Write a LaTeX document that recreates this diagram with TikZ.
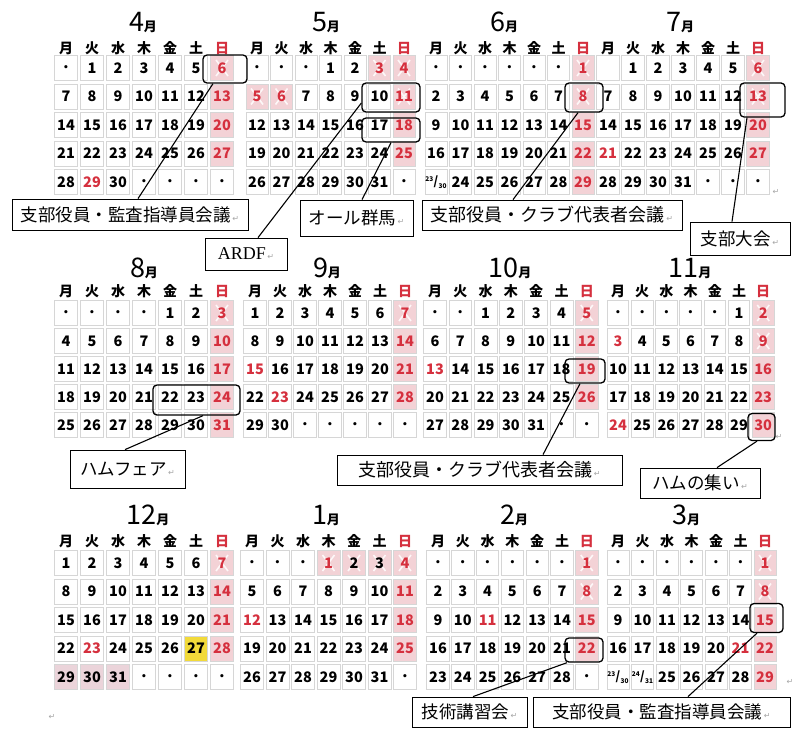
\documentclass[tikz,border=0pt]{standalone}
\usepackage{fontspec}
\newfontfamily\jp{Noto Sans CJK JP}
\newfontfamily\dv{DejaVu Sans}
\newfontfamily\ser{Liberation Serif}
\definecolor{hred}{HTML}{D5303E}
\definecolor{hpink}{HTML}{F3D2D6}
\definecolor{dpink}{HTML}{EBD4DA}
\definecolor{cellb}{HTML}{D6D6D6}
\definecolor{hyel}{HTML}{F2DA3A}
\newcommand\emptytxt{}
\newcommand\frc[2]{{\fontsize{6.5}{6.5}\selectfont\raisebox{4.5pt}{#1}}{\fontsize{12}{12}\selectfont\kern0.3pt/\kern0.3pt}{\fontsize{6.5}{6.5}\selectfont\raisebox{-2.5pt}{#2}}}
\newcommand\fa{\frc{23}{30}}
\newcommand\fb{\frc{24}{31}}
\newcommand\rt{{\dv\fontsize{8}{8}\selectfont\color{gray!70}\,↵}}
\tikzset{
  cell/.style={draw=cellb, line width=0.8pt, minimum height=25pt, inner sep=0pt,
    fill=white, font=\jp\bfseries\fontsize{14.5}{14.5}\selectfont},
  xmk/.style={path picture={
    \draw[white, line width=1.6pt, opacity=.85]
      ([shift={(-6pt,-8pt)}]path picture bounding box.center) -- ([shift={(6pt,8pt)}]path picture bounding box.center)
      ([shift={(-6pt,8pt)}]path picture bounding box.center) -- ([shift={(6pt,-8pt)}]path picture bounding box.center);}},
  stn/.style={}, ste/.style={},
  std/.style={font=\dv\bfseries\fontsize{9}{9}\selectfont},
  sts/.style={fill=hpink, text=hred},
  stx/.style={fill=hpink, text=hred, xmk},
  sth/.style={text=hred},
  stq/.style={fill=dpink},
  stk/.style={fill=hpink, xmk},
  sty/.style={fill=hyel},
  wd/.style={font=\jp\bfseries\fontsize{14}{14}\selectfont, inner sep=0pt},
  mt/.style={font=\jp, inner sep=0pt},
  hl/.style={draw=black, line width=1.3pt, rounded corners=4pt, inner sep=0pt},
  lb/.style={draw=black, line width=0.8pt, fill=white, inner sep=0pt, font=\jp\fontsize{17.5}{17.5}\selectfont},
  ld/.style={line width=1.1pt},
  rtn/.style={font=\dv\fontsize{8}{8}\selectfont, text=gray!70, inner sep=0pt}
}
% #1 name, #2 x of Monday column, #3 column pitch, #4 weekday y, #5 first row y, #6 row pitch, #7 entries
\newcommand\mkmonth[7]{%
  \foreach \w [count=\i from 0] in {月,火,水,木,金,土}{%
    \node[wd] (#1w\i) at ({#2+\i*#3},#4) {\w};}
  \node[wd, text=hred] (#1w6) at ({#2+6*#3},#4) {日};
  \foreach \t/\s [count=\k from 0] in {#7}{%
    \pgfmathtruncatemacro\cc{mod(\k,7)}%
    \pgfmathtruncatemacro\rr{\k/7}%
    \node[cell, minimum width={#3*1pt-2.5pt}, st\s] (#1c\k) at ({#2+\cc*#3},{#5+\rr*#6}) {\t};}%
}
\begin{document}
\begin{tikzpicture}[x=1pt,y=-1pt]
\useasboundingbox (0,0) rectangle (799,728);
\fill[white] (0,0) rectangle (799,728);

% titles
\node[mt] (t4) at (143,22) {\fontsize{27}{27}\selectfont 4\fontsize{13}{13}\selectfont\bfseries 月};
\node[mt] (t5) at (326,22) {\fontsize{27}{27}\selectfont 5\fontsize{13}{13}\selectfont\bfseries 月};
\node[mt] (t6) at (504,22) {\fontsize{27}{27}\selectfont 6\fontsize{13}{13}\selectfont\bfseries 月};
\node[mt] (t7) at (680,22) {\fontsize{27}{27}\selectfont 7\fontsize{13}{13}\selectfont\bfseries 月};
\node[mt] (t8) at (144,268) {\fontsize{27}{27}\selectfont 8\fontsize{13}{13}\selectfont\bfseries 月};
\node[mt] (t9) at (327,268) {\fontsize{27}{27}\selectfont 9\fontsize{13}{13}\selectfont\bfseries 月};
\node[mt] (t10) at (510,268) {\fontsize{27}{27}\selectfont 10\fontsize{13}{13}\selectfont\bfseries 月};
\node[mt] (t11) at (690,268) {\fontsize{27}{27}\selectfont 11\fontsize{13}{13}\selectfont\bfseries 月};
\node[mt] (t12) at (148,515) {\fontsize{27}{27}\selectfont 12\fontsize{13}{13}\selectfont\bfseries 月};
\node[mt] (t1) at (326,515) {\fontsize{27}{27}\selectfont 1\fontsize{13}{13}\selectfont\bfseries 月};
\node[mt] (t2) at (514,515) {\fontsize{27}{27}\selectfont 2\fontsize{13}{13}\selectfont\bfseries 月};
\node[mt] (t3) at (686,515) {\fontsize{27}{27}\selectfont 3\fontsize{13}{13}\selectfont\bfseries 月};

% months
\mkmonth{apr}{66}{26}{48}{68}{28.5}{•/d,1/n,2/n,3/n,4/n,5/n,6/x,7/n,8/n,9/n,10/n,11/n,12/n,13/s,14/n,15/n,16/n,17/n,18/n,19/n,20/s,21/n,22/n,23/n,24/n,25/n,26/n,27/s,28/n,29/h,30/n,•/d,•/d,•/d,•/d}
\mkmonth{may}{257}{24.5}{48}{68}{28.5}{•/d,•/d,•/d,1/n,2/n,3/x,4/x,5/x,6/x,7/n,8/n,9/n,10/n,11/x,12/n,13/n,14/n,15/n,16/n,17/n,18/s,19/n,20/n,21/n,22/n,23/n,24/n,25/s,26/n,27/n,28/n,29/n,30/n,31/n,•/d}
\mkmonth{jun}{436}{24.5}{48}{68}{28.5}{•/d,•/d,•/d,•/d,•/d,•/d,1/x,2/n,3/n,4/n,5/n,6/n,7/n,8/x,9/n,10/n,11/n,12/n,13/n,14/n,15/s,16/n,17/n,18/n,19/n,20/n,21/n,22/s,\fa/n,24/n,25/n,26/n,27/n,28/n,29/s}
\mkmonth{jul}{608}{25}{48}{68}{28.5}{\emptytxt/e,1/n,2/n,3/n,4/n,5/n,6/x,7/n,8/n,9/n,10/n,11/n,12/n,13/x,14/n,15/n,16/n,17/n,18/n,19/n,20/s,21/h,22/n,23/n,24/n,25/n,26/n,27/s,28/n,29/n,30/n,31/n,•/d,•/d,•/d}

\mkmonth{aug}{66}{26}{291}{313}{28}{•/d,•/d,•/d,•/d,1/n,2/n,3/x,4/n,5/n,6/n,7/n,8/n,9/n,10/s,11/n,12/n,13/n,14/n,15/n,16/n,17/s,18/n,19/n,20/n,21/n,22/n,23/n,24/s,25/n,26/n,27/n,28/n,29/n,30/n,31/s}
\mkmonth{sep}{255}{25}{291}{313}{28}{1/n,2/n,3/n,4/n,5/n,6/n,7/x,8/n,9/n,10/n,11/n,12/n,13/n,14/s,15/h,16/n,17/n,18/n,19/n,20/n,21/s,22/n,23/h,24/n,25/n,26/n,27/n,28/s,29/n,30/n,•/d,•/d,•/d,•/d,•/d}
\mkmonth{oct}{435}{25.3}{291}{313}{28}{•/d,•/d,1/n,2/n,3/n,4/n,5/x,6/n,7/n,8/n,9/n,10/n,11/n,12/s,13/h,14/n,15/n,16/n,17/n,18/n,19/s,20/n,21/n,22/n,23/n,24/n,25/n,26/s,27/n,28/n,29/n,30/n,31/n,•/d,•/d}
\mkmonth{nov}{618}{24.2}{291}{313}{28}{•/d,•/d,•/d,•/d,•/d,1/n,2/x,3/h,4/n,5/n,6/n,7/n,8/n,9/x,10/n,11/n,12/n,13/n,14/n,15/n,16/s,17/n,18/n,19/n,20/n,21/n,22/n,23/s,24/h,25/n,26/n,27/n,28/n,29/n,30/s}

\mkmonth{dec}{66}{26}{541}{563}{28.5}{1/n,2/n,3/n,4/n,5/n,6/n,7/x,8/n,9/n,10/n,11/n,12/n,13/n,14/s,15/n,16/n,17/n,18/n,19/n,20/n,21/s,22/n,23/h,24/n,25/n,26/n,27/y,28/s,29/q,30/q,31/q,•/d,•/d,•/d,•/d}
\mkmonth{jan}{252}{25.5}{541}{563}{28.5}{•/d,•/d,•/d,1/x,2/k,3/k,4/x,5/n,6/n,7/n,8/n,9/n,10/n,11/s,12/h,13/n,14/n,15/n,16/n,17/n,18/s,19/n,20/n,21/n,22/n,23/n,24/n,25/s,26/n,27/n,28/n,29/n,30/n,31/n,•/d}
\mkmonth{feb}{438}{24.8}{541}{563}{28.5}{•/d,•/d,•/d,•/d,•/d,•/d,1/x,2/n,3/n,4/n,5/n,6/n,7/n,8/x,9/n,10/n,11/h,12/n,13/n,14/n,15/s,16/n,17/n,18/n,19/n,20/n,21/n,22/s,23/n,24/n,25/n,26/n,27/n,28/n,•/d}
\mkmonth{mar}{618}{24.5}{541}{563}{28.5}{•/d,•/d,•/d,•/d,•/d,•/d,1/x,2/n,3/n,4/n,5/n,6/n,7/n,8/x,9/n,10/n,11/n,12/n,13/n,14/n,15/s,16/n,17/n,18/n,19/n,20/n,21/h,22/s,\fa/n,\fb/n,25/n,26/n,27/n,28/n,29/s}

% highlight boxes
\node[hl, minimum width=44pt, minimum height=28pt] (hA) at (225,69) {};
\node[hl, minimum width=58pt, minimum height=29pt] (hB) at (391,97.5) {};
\node[hl, minimum width=58pt, minimum height=24pt] (hC) at (391,130) {};
\node[hl, minimum width=38pt, minimum height=29pt] (hD) at (584,97.5) {};
\node[hl, minimum width=45pt, minimum height=34pt] (hE) at (762.5,100) {};
\node[hl, minimum width=87pt, minimum height=30pt] (hF) at (196.5,400) {};
\node[hl, minimum width=40pt, minimum height=24pt] (hG) at (585,371) {};
\node[hl, minimum width=27pt, minimum height=27pt] (hH) at (761.5,427) {};
\node[hl, minimum width=38pt, minimum height=24pt] (hI) at (584,650) {};
\node[hl, minimum width=33pt, minimum height=29pt] (hJ) at (766.5,618) {};

% labels
\node[lb, minimum width=236pt, minimum height=31pt] (lA) at (130,214.5) {支部役員・監査指導員会議\rt};
\node[lb, minimum width=82pt, minimum height=32pt, font=\ser\fontsize{18}{18}\selectfont] (lB) at (246,254) {ARDF\rt};
\node[lb, minimum width=113pt, minimum height=36pt] (lC) at (356.5,218) {オール群馬\rt};
\node[lb, minimum width=260pt, minimum height=30pt, font=\jp\fontsize{18}{18}\selectfont] (lD) at (552,215) {支部役員・クラブ代表者会議\rt};
\node[lb, minimum width=100pt, minimum height=33pt] (lE) at (740,238.5) {支部大会\rt};
\node[lb, minimum width=115pt, minimum height=38pt] (lF) at (127.5,469) {ハムフェア\rt};
\node[lb, minimum width=285pt, minimum height=30pt, font=\jp\fontsize{18}{18}\selectfont] (lG) at (479.5,470) {支部役員・クラブ代表者会議\rt};
\node[lb, minimum width=120pt, minimum height=30pt] (lH) at (700,483) {ハムの集い\rt};
\node[lb, minimum width=115pt, minimum height=30pt] (lI) at (469.5,712) {技術講習会\rt};
\node[lb, minimum width=257pt, minimum height=30pt] (lJ) at (661.5,712) {支部役員・監査指導員会議\rt};

% leader lines
\draw[ld] ([xshift=-12pt]hA.south) -- ([xshift=8pt]lA.north);
\draw[ld] ([yshift=-5.5pt]hB.west) -- ([xshift=12pt]lB.north);
\draw[ld] (hC.south) -- ([xshift=5.5pt]lC.north);
\draw[ld] ([xshift=-6pt]hD.south) -- ([xshift=-39pt]lD.north);
\draw[ld] ([xshift=-15.5pt]hE.south) -- ([xshift=-8pt]lE.north);
\draw[ld] ([xshift=6.5pt]hF.south) -- ([xshift=-2.5pt]lF.north);
\draw[ld] ([xshift=-5pt]hG.south) -- ([xshift=63.5pt]lG.north);
\draw[ld] ([xshift=-4.5pt]hH.south) -- ([xshift=17pt]lH.north);
\draw[ld] ([xshift=-17pt]hI.south) -- ([xshift=3.5pt]lI.north);
\draw[ld] ([xshift=-9.5pt]hJ.south) -- ([xshift=26.5pt]lJ.north);

% stray return marks
\node[rtn] (r1) at (776,192) {↵};
\node[rtn] (r2) at (779,437) {↵};
\node[rtn] (r3) at (790,682) {↵};
\node[rtn] (r4) at (52,717) {↵};
\end{tikzpicture}
\end{document}
